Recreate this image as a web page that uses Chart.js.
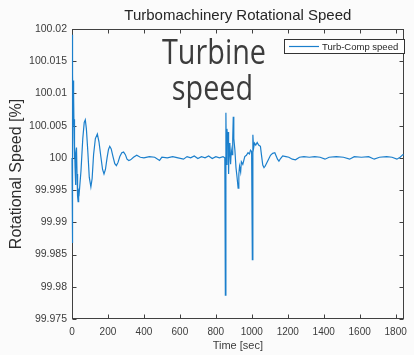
<!DOCTYPE html>
<html>
<head>
<meta charset="utf-8">
<script src="https://cdn.jsdelivr.net/npm/chart.js@4.4.1/dist/chart.umd.min.js"></script>
<style>
  html, body { margin: 0; padding: 0; background: #fbfbfb; }
  #speedChart { display: block; }
</style>
</head>
<body>
<canvas id="speedChart" width="414" height="355"></canvas>
<script>
// time [sec] and rotational speed [%]
const timeSec = [
  0, 1, 2, 3, 4, 5, 6, 7, 8, 9, 10, 11, 12, 13, 14, 15, 17, 19, 22, 25, 28, 31, 34, 37, 40,
  50, 60, 68, 74, 80, 88, 96, 105, 112, 120, 130, 141, 150, 160, 170, 178, 186, 195, 203, 210,
  218, 228, 238, 247, 256, 266, 277, 287, 297, 306, 316, 326, 342, 360, 380, 400, 430, 460, 487,
  500, 530, 560, 590, 620, 640, 660, 680, 700, 720, 740, 760, 780, 800, 820, 840, 850,
  853, 856, 859, 862, 865, 868, 871, 874, 878, 882, 886, 890, 894, 897, 900, 906, 912, 918, 924,
  928, 932, 938, 942, 950, 961, 970, 979, 987, 993, 999, 1003, 1006, 1010, 1015, 1022, 1030, 1038,
  1048, 1055, 1061, 1068, 1074, 1083, 1092, 1104, 1116, 1128, 1143, 1151, 1160, 1172, 1190, 1206,
  1225, 1243, 1265, 1290, 1320, 1350, 1380, 1407, 1430, 1470, 1510, 1544, 1570, 1610, 1650, 1681,
  1710, 1750, 1780, 1807, 1825, 1840, 1845
];
const speedPct = [
  100.0000, 100.0191, 99.9868, 100.0140, 100.0060, 100.0130, 100.0055, 100.0120, 100.0065, 100.0110,
  100.0050, 100.0095, 100.0030, 100.0060, 100.0000, 100.0020, 99.9985, 99.9958, 100.0005, 100.0016,
  99.9975, 99.9940, 99.9932, 99.9948, 99.9945,
  99.9980, 100.0030, 100.0055, 100.0059, 100.0045, 100.0010, 99.9970, 99.9955, 99.9968, 100.0005,
  100.0030, 100.0037, 100.0025, 100.0003, 99.9982, 99.9975, 99.9982, 100.0000, 100.0013, 100.0018,
  100.0014, 100.0002, 99.9991, 99.9988, 99.9993, 100.0002, 100.0008, 100.0009, 100.0005, 99.9998,
  99.9996, 99.9997, 100.0001, 100.0004, 100.0001, 100.0000, 100.0002, 100.0001, 99.9996,
  100.0001, 100.0000, 100.0002, 100.0000, 99.9998, 100.0002, 100.0000, 100.0003, 99.9999, 100.0002,
  100.0000, 100.0003, 99.9999, 100.0002, 100.0000, 100.0002, 100.0000,
  99.9787, 100.0070, 99.9990, 100.0045, 100.0028, 100.0040, 99.9975, 100.0023, 100.0010, 99.9990,
  100.0012, 100.0005, 100.0030, 100.0064, 100.0030, 100.0012, 99.9985, 99.9970, 99.9953,
  99.9975, 99.9987, 99.9978, 99.9994, 99.9990, 100.0002, 100.0004, 100.0008, 100.0006, 100.0012,
  100.0010, 99.9842, 100.0036, 100.0015, 100.0023, 100.0020, 100.0024, 100.0020,
  100.0018, 100.0002, 99.9989, 99.9985, 99.9987, 99.9992, 99.9997, 100.0004, 100.0007, 100.0008,
  99.9998, 99.9995, 99.9999, 100.0003, 100.0002, 100.0001,
  99.9998, 99.9997, 100.0001, 100.0002, 100.0001, 100.0002, 100.0001, 99.9998, 100.0001, 100.0002,
  100.0001, 99.9998, 100.0002, 100.0001, 100.0002, 99.9998,
  100.0001, 100.0002, 100.0001, 99.9998, 100.0001, 100.0005, 100.0004
];
const xTicks = [0, 200, 400, 600, 800, 1000, 1200, 1400, 1600, 1800];
const yTicks = [99.975, 99.98, 99.985, 99.99, 99.995, 100, 100.005, 100.01, 100.015, 100.02];
const yTickLabels = ['99.975', '99.98', '99.985', '99.99', '99.995', '100', '100.005', '100.01', '100.015', '100.02'];
const seriesLabel = 'Turb-Comp speed';
const overlayLines = ['Turbine', 'speed'];

const axisFont = 'Liberation Sans, Arial, sans-serif';
const lineBlue = '#1b7fcc';

// MATLAB-like box with inward ticks (under the line), legend box and the slide annotation
const matlabBox = {
  id: 'matlabBox',
  beforeDraw(chart) {
    const ctx = chart.ctx;
    ctx.save();
    ctx.fillStyle = '#fbfbfb';
    ctx.fillRect(0, 0, chart.width, chart.height);
    ctx.restore();
  },
  beforeDatasetsDraw(chart) {
    const {ctx, chartArea: a, scales: {x, y}} = chart;
    const L = Math.round(a.left) + 0.5, R = Math.round(a.right) - 0.5;
    const T = Math.round(a.top) + 0.5, B = Math.round(a.bottom) - 0.5;
    ctx.save();
    ctx.strokeStyle = '#404040';
    ctx.lineWidth = 1;
    ctx.strokeRect(L, T, R - L, B - T);
    ctx.beginPath();
    xTicks.forEach(v => {
      const px = Math.round(x.getPixelForValue(v)) + 0.5;
      ctx.moveTo(px, B); ctx.lineTo(px, B - 4);
      ctx.moveTo(px, T); ctx.lineTo(px, T + 4);
    });
    yTicks.forEach(v => {
      const py = Math.round(y.getPixelForValue(v)) + 0.5;
      ctx.moveTo(L, py); ctx.lineTo(L + 4, py);
      ctx.moveTo(R, py); ctx.lineTo(R - 4, py);
    });
    ctx.stroke();
    ctx.restore();
  },
  afterDatasetsDraw(chart) {
    const ctx = chart.ctx;
    ctx.save();
    // legend
    const ds = chart.data.datasets[0];
    ctx.fillStyle = '#ffffff';
    ctx.fillRect(284.5, 39.5, 120, 14);
    ctx.strokeStyle = '#333333';
    ctx.lineWidth = 1;
    ctx.strokeRect(284.5, 39.5, 120, 14);
    ctx.strokeStyle = ds.borderColor;
    ctx.lineWidth = 1.2;
    ctx.beginPath();
    ctx.moveTo(289, 46.5); ctx.lineTo(319, 46.5);
    ctx.stroke();
    ctx.fillStyle = '#262626';
    ctx.font = '9.5px ' + axisFont;
    ctx.textBaseline = 'middle';
    ctx.textAlign = 'left';
    ctx.fillText(ds.label, 322, 47);

    // big annotation text
    ctx.fillStyle = '#3c3c3c';
    ctx.font = '34px "Open Sans", sans-serif';
    ctx.textBaseline = 'alphabetic';
    ctx.textAlign = 'center';
    const sx = 104 / ctx.measureText(overlayLines[0]).width;
    ctx.save(); ctx.translate(214, 64); ctx.scale(sx, 1); ctx.fillText(overlayLines[0], 0, 0); ctx.restore();
    ctx.save(); ctx.translate(212.5, 100); ctx.scale(sx, 1); ctx.fillText(overlayLines[1], 0, 0); ctx.restore();
    ctx.restore();
  }
};

new Chart(document.getElementById('speedChart'), {
  type: 'line',
  data: {
    datasets: [{
      label: seriesLabel,
      data: timeSec.map((t, i) => ({x: t, y: speedPct[i]})),
      borderColor: lineBlue,
      borderWidth: 1.2,
      pointRadius: 0,
      tension: 0,
      fill: false,
      clip: 2
    }]
  },
  options: {
    responsive: false,
    animation: false,
    devicePixelRatio: 1,
    layout: { padding: { left: 0, right: 4, top: 0, bottom: 0 } },
    plugins: {
      legend: { display: false },
      tooltip: { enabled: false },
      title: {
        display: true,
        text: 'Turbomachinery Rotational Speed',
        fullSize: false,
        color: '#262626',
        font: { family: axisFont, size: 15, weight: 'normal' },
        padding: { top: 7, bottom: 4 }
      }
    },
    scales: {
      x: {
        type: 'linear',
        min: 0,
        max: 1845,
        afterBuildTicks: s => { s.ticks = xTicks.map(v => ({value: v})); },
        afterFit: s => { s.height = 36; },
        grid: { display: false, drawTicks: false },
        border: { display: false },
        ticks: {
          color: '#3c3c3c',
          font: { family: axisFont, size: 10 },
          padding: 7,
          maxRotation: 0,
          callback: v => String(v)
        },
        title: {
          display: true,
          text: 'Time [sec]',
          color: '#3c3c3c',
          font: { family: axisFont, size: 11 },
          padding: { top: 0, bottom: 2 }
        }
      },
      y: {
        type: 'linear',
        min: 99.975,
        max: 100.02,
        afterBuildTicks: s => { s.ticks = yTicks.map(v => ({value: v})); },
        afterFit: s => { s.width = 72; },
        grid: { display: false, drawTicks: false },
        border: { display: false },
        ticks: {
          color: '#3c3c3c',
          font: { family: axisFont, size: 10.5 },
          padding: 5,
          callback: (v, i) => yTickLabels[i]
        },
        title: {
          display: true,
          text: 'Rotational Speed [%]',
          color: '#2e2e2e',
          font: { family: axisFont, size: 16 },
          padding: { top: 7, bottom: 0 }
        }
      }
    }
  },
  plugins: [matlabBox]
});
</script>
</body>
</html>
